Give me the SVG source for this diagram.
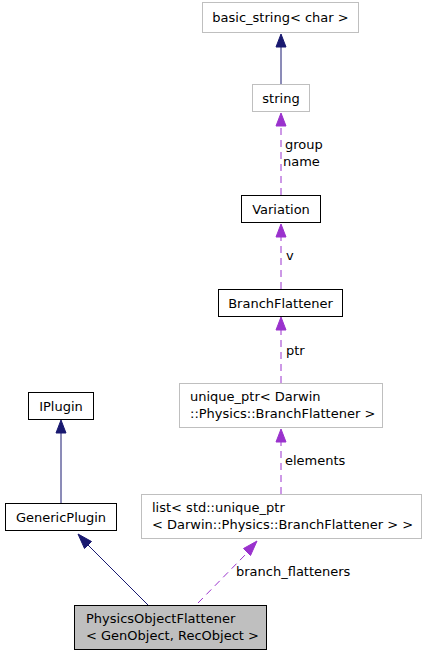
<svg xmlns="http://www.w3.org/2000/svg" width="427" height="656" viewBox="0 0 427 656">
<style>
text{font-family:"DejaVu Sans","Liberation Sans",sans-serif;font-size:13px;fill:#000}
.n{fill:#fff;stroke:#000}
.g{fill:#fff;stroke:#bfbfbf}
.cur{fill:#bfbfbf;stroke:#000}
.inh{stroke:#191970;fill:none}
.use{stroke:#9a32cd;fill:none;stroke-dasharray:7,5}
.ha{fill:#191970;stroke:#191970}
.hu{fill:#9a32cd;stroke:#9a32cd}
</style>
<rect width="427" height="656" fill="#fff"/>
<g id="edges">
<path class="inh" d="M281,84V47"/><polygon class="ha" points="281,34 276,47 286,47"/>
<path class="use" d="M281,195V126"/><polygon class="hu" points="281,113 276,126 286,126"/>
<text x="285" y="149">group</text><text x="283" y="166">name</text>
<path class="use" d="M281,289V237"/><polygon class="hu" points="281,224 276,237 286,237"/>
<text x="286" y="260">v</text>
<path class="use" d="M281,383V330"/><polygon class="hu" points="281,317 276,330 286,330"/>
<text x="286" y="355">ptr</text>
<path class="use" d="M281,494V442"/><polygon class="hu" points="281,429 276,442 286,442"/>
<text x="285" y="465">elements</text>
<path class="inh" d="M61,503V433"/><polygon class="ha" points="61,420 56,433 66,433"/>
<path class="inh" d="M148,605L88,545"/><polygon class="ha" points="78,534 84.5,548.5 91.5,541.5"/>
<path class="use" d="M198,603L247,553"/><polygon class="hu" points="257,541 243.5,548.5 250.5,555.5"/>
<text x="236" y="576">branch_flatteners</text>
</g>
<g id="basic_string"><rect class="g" x="202.5" y="2.5" width="156" height="30"/><text x="280.5" y="22" text-anchor="middle">basic_string&lt; char &gt;</text></g>
<g id="string"><rect class="g" x="252.5" y="84.5" width="57" height="27"/><text x="281" y="102.5" text-anchor="middle">string</text></g>
<g id="Variation"><rect class="n" x="241.5" y="195.5" width="79" height="27"/><text x="281" y="213.5" text-anchor="middle">Variation</text></g>
<g id="BranchFlattener"><rect class="n" x="218.5" y="289.5" width="124" height="27"/><text x="280.5" y="307.5" text-anchor="middle">BranchFlattener</text></g>
<g id="unique_ptr"><rect class="g" x="179.5" y="383.5" width="203" height="44"/><text x="190" y="401">unique_ptr&lt; Darwin</text><text x="190" y="418">::Physics::BranchFlattener &gt;</text></g>
<g id="list"><rect class="g" x="141.5" y="494.5" width="280" height="44"/><text x="152" y="512">list&lt; std::unique_ptr</text><text x="152" y="529">&lt; Darwin::Physics::BranchFlattener &gt; &gt;</text></g>
<g id="IPlugin"><rect class="n" x="28.5" y="392.5" width="65" height="27"/><text x="61" y="410.5" text-anchor="middle">IPlugin</text></g>
<g id="GenericPlugin"><rect class="n" x="5.5" y="503.5" width="111" height="27"/><text x="61" y="521.5" text-anchor="middle">GenericPlugin</text></g>
<g id="PhysicsObjectFlattener"><rect class="cur" x="74.5" y="605.5" width="192" height="44"/><text x="86" y="623">PhysicsObjectFlattener</text><text x="86" y="640">&lt; GenObject, RecObject &gt;</text></g>
</svg>
